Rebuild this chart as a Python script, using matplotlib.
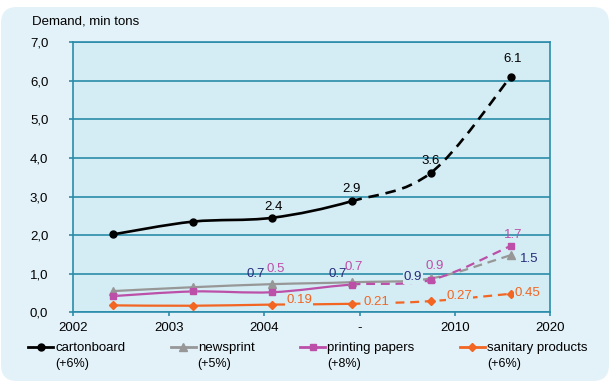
import matplotlib
matplotlib.use("Agg")
from matplotlib import pyplot as plt
from matplotlib.path import Path
from matplotlib.patches import PathPatch, FancyBboxPatch
from matplotlib.lines import Line2D
import numpy as np

plt.rcParams['font.family'] = ['Liberation Sans', 'DejaVu Sans']
plt.rcParams['font.size'] = 9

# data
tick_labels = ["2002", "2003", "2004", "-", "2010", "2020"]
names = ["cartonboard", "newsprint", "printing papers", "sanitary products"]
growth = ["(+6%)", "(+5%)", "(+8%)", "(+6%)"]

cartonboard = [2.02, 2.35, 2.45, 2.88, 3.62, 6.10]
newsprint = [0.55, 0.65, 0.73, 0.78, 0.88, 1.48]
printing = [0.42, 0.54, 0.52, 0.72, 0.84, 1.72]
sanitary = [0.18, 0.17, 0.20, 0.22, 0.29, 0.48]

carton_lbl = ["", "", "2.4", "2.9", "3.6", "6.1"]
news_lbl = ["", "", "0.7", "0.7", "0.9", "1.5"]
print_lbl = ["", "", "0.5", "0.7", "0.9", "1.7"]
sanit_lbl = ["", "", "0.19", "0.21", "0.27", "0.45"]

# colours
plot_bg = "#D4ECF3"
outer_bg = "#E3F2F9"
teal = "#2B8CA9"
c_black = "#000000"
c_gray = "#979797"
c_mag = "#BC4FA8"
c_orange = "#F26522"
c_navy = "#262C7C"


def smooth_path(xs, ys, i0, i1):
    # excel style smoothed line between point i0 and i1
    pts = np.column_stack([xs, ys]).astype(float)
    n = len(pts)
    verts = [pts[i0]]
    codes = [Path.MOVETO]
    for i in range(i0, i1):
        p0 = pts[max(i - 1, 0)]
        p1 = pts[i]
        p2 = pts[i + 1]
        p3 = pts[min(i + 2, n - 1)]
        verts += [p1 + (p2 - p0) / 6, p2 - (p3 - p1) / 6, p2]
        codes += [Path.CURVE4] * 3
    return Path(verts, codes)


fig = plt.figure(figsize=(6.11, 3.82), dpi=100)
fig.patch.set_facecolor("white")
bg = FancyBboxPatch((0.01, 0.01), 6.08, 3.74, boxstyle="round,pad=0,rounding_size=0.16",
                    transform=fig.dpi_scale_trans, facecolor=outer_bg, edgecolor="none", zorder=-10)
fig.patches.append(bg)

ax = fig.add_axes([73.3 / 611, 1 - 312.3 / 382, 477 / 611, 270 / 382])
ax.set_facecolor(plot_bg)
for s in ax.spines.values():
    s.set_color(teal)
    s.set_linewidth(1.2)

x = np.arange(6) + 0.5

series = [
    (cartonboard, c_black, "o", 5, 1.9, 3, carton_lbl, c_black),
    (newsprint, c_gray, "^", 6, 1.6, 4, news_lbl, c_navy),
    (printing, c_mag, "s", 5, 1.6, 3, print_lbl, c_mag),
    (sanitary, c_orange, "D", 4.5, 1.6, 3, sanit_lbl, c_orange),
]

for vals, col, mk, ms, lw, split, lbls, lcol in series:
    ax.add_patch(PathPatch(smooth_path(x, vals, 0, split), fill=False, edgecolor=col,
                           lw=lw, zorder=3, capstyle="butt"))
    ax.add_patch(PathPatch(smooth_path(x, vals, split, len(vals) - 1), fill=False, edgecolor=col,
                           lw=lw, linestyle=(0, (4, 2.6)), zorder=3, capstyle="butt"))
    ax.plot(x, vals, linestyle="none", marker=mk, ms=ms, color=col, zorder=4)

# label offsets in pixels and whether the label hides the line under it (layout only)
carton_off = [None, None, (1, 11), (0, 12), (0, 12), (2, 18)]
news_off = [None, None, (-16, 10), (-14, 8), (-18, 1), (19, -4)]
print_off = [None, None, (4, 23), (2, 18), (4, 14), (3, 11)]
sanit_off = [None, None, (27, 5), (25, 2), (28, 5), (17, 1)]
carton_box = [False] * 6
news_box = [False, False, False, False, True, False]
print_box = [False] * 6
sanit_box = [False, False, True, True, True, True]

for (vals, col, mk, ms, lw, split, lbls, lcol), offs, boxes in zip(
        series, [carton_off, news_off, print_off, sanit_off],
        [carton_box, news_box, print_box, sanit_box]):
    for xi, yi, t, o, b in zip(x, vals, lbls, offs, boxes):
        if not t:
            continue
        kw = {}
        if b:
            kw["bbox"] = dict(boxstyle="square,pad=0.05", facecolor=plot_bg, edgecolor="none")
        ax.annotate(t, (xi, yi), xytext=o, textcoords="offset pixels", ha="center",
                    va="center", color=lcol, fontsize=9.5, zorder=6, **kw)

ax.set_xlim(0, 6)
ax.set_ylim(0, 7)
ax.set_xticks(np.linspace(0, 6, 6))
ax.set_xticklabels(tick_labels)
ax.set_yticks(range(8))
ax.set_yticklabels([f"{v:.1f}".replace(".", ",") for v in range(8)])
ax.yaxis.grid(True, color=teal, lw=1.2)
ax.set_axisbelow(True)
ax.tick_params(axis="both", colors=teal, labelcolor="black", length=3, width=1.2, labelsize=9.5)
ax.tick_params(axis="y", pad=15)
ax.tick_params(axis="x", pad=4)

fig.text(32 / 611, 1 - 21 / 382, "Demand, min tons", ha="left", va="center", fontsize=9.5)

handles = [Line2D([], [], color=c, marker=m, ms=ms, lw=2)
           for c, m, ms in [(c_black, "o", 5), (c_gray, "^", 6), (c_mag, "s", 5), (c_orange, "D", 4.5)]]
leg = fig.legend(handles, names, ncol=4, loc="center left", bbox_to_anchor=(28 / 611, 1 - 348 / 382),
                 frameon=False, handlelength=1.9, handletextpad=0.15, columnspacing=3.45,
                 borderpad=0, borderaxespad=0, fontsize=9.5)

fig.canvas.draw()
inv = fig.transFigure.inverted()
for txt, g in zip(leg.get_texts(), growth):
    bb = txt.get_window_extent()
    x0 = inv.transform((bb.x0, bb.y0))[0]
    fig.text(x0, 1 - 364 / 382, g, ha="left", va="center", fontsize=9)

fig.savefig("out.png", dpi=100)
